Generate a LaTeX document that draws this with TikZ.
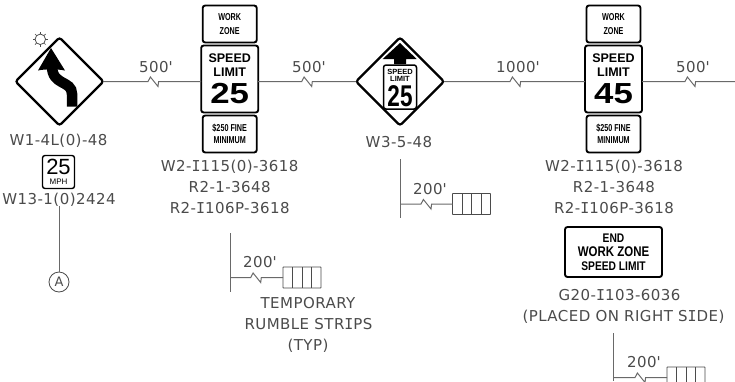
\documentclass[tikz,border=0pt]{standalone}
\usepackage{fontspec}
\usetikzlibrary{calc,shapes.geometric}
\setmainfont[LetterSpace=3]{DejaVu Sans}
\newfontfamily\serifI{DejaVu Sans Mono}
\newfontfamily\signreg{Liberation Sans}
\newfontfamily\signbold{Liberation Sans Bold}
\newfontfamily\signnarrow[FakeStretch=0.82]{Liberation Sans Bold}
\newfontfamily\signtiny[FakeStretch=0.72]{Liberation Sans Bold}
\newcommand{\sI}{{\serifI I}}
\newcommand{\ft}{\textquotesingle}
\definecolor{roadgray}{RGB}{105,105,105}
\definecolor{codegray}{RGB}{75,75,75}
\tikzset{
  road/.style={draw=roadgray,line width=1pt},
  codetext/.style={anchor=base,inner sep=0pt,text=codegray,font=\fontsize{15}{15}\selectfont},
  signrect/.style={draw=black,fill=white,line width=1.9pt,rounded corners=2.5pt,inner sep=0pt,outer sep=0pt},
  warndiamond/.style={diamond,aspect=1,draw=black,fill=white,line width=2.2pt,rounded corners=2.5pt,inner sep=0pt,outer sep=0pt,minimum width=88pt,minimum height=88pt},
  stripbox/.style={draw=codegray,line width=0.8pt,rounded corners=0.5pt,minimum width=38pt,minimum height=21pt,inner sep=0pt,outer sep=0pt},
  tinytext/.style={align=center,inner sep=0pt,font=\signtiny\fontsize{10}{13.5}\selectfont},
}
% Break symbol on a line
\newcommand{\zig}[3]{\draw[road] (#1) -- ($(#2)+(-5,0)$) -- ++(2.4,-4.5) -- ++(7.6,9.5) -- ++(0.6,-5) -- (#3);}
% Rumble strip block
\newcommand{\rumble}[2]{
  \node[stripbox] (#1) at (#2) {};
  \foreach \f in {0.25,0.5,0.75}
    \draw[codegray,line width=0.8pt] ($(#1.north west)!\f!(#1.north east)$) -- ($(#1.south west)!\f!(#1.south east)$);
}
% Three sign stack
\newcommand{\speedstack}[3]{
  \node[signrect,minimum width=54pt,minimum height=37pt,tinytext] (#1work) at (#2,24) {WORK\\ZONE};
  \node[signrect,minimum width=57pt,minimum height=67pt] (#1speed) at (#2,79) {};
  \node[signrect,minimum width=54pt,minimum height=37pt,tinytext,font=\signtiny\fontsize{10}{12}\selectfont] (#1fine) at (#2,134) {\$250 FINE\\MINIMUM};
  \node[inner sep=0pt,font=\signbold\fontsize{12.5}{12.5}\selectfont] (#1top) at (#2,58) {SPEED};
  \node[inner sep=0pt,font=\signbold\fontsize{12.5}{12.5}\selectfont] (#1mid) at (#2,72) {LIMIT};
  \node[inner sep=0pt,font=\signbold\fontsize{29}{29}\selectfont] (#1num) at (#2,94) {\scalebox{1.2}[1]{#3}};
}
\begin{document}
\begin{tikzpicture}[x=1pt,y=-1pt]
\clip (0,0) rectangle (735,381);
\fill[white] (0,0) rectangle (735,381);

% Draw signs along the road
\node[warndiamond] (curve) at (59.5,81.5) {};
\speedstack{first}{229.7}{25}
\node[warndiamond] (ahead) at (400,81.5) {};
\speedstack{second}{613.5}{45}

% Draw road with breaks
\coordinate (breakA) at (153,81.5);
\coordinate (breakB) at (306.7,81.5);
\coordinate (breakC) at (515,81.5);
\coordinate (breakD) at (690,81.5);
\coordinate (roadend) at (735,81.5);
\zig{curve}{breakA}{firstspeed.west |- breakA}
\zig{firstspeed.east |- breakB}{breakB}{ahead}
\zig{ahead}{breakC}{secondspeed.west |- breakC}
\zig{secondspeed.east |- breakD}{breakD}{roadend}

% Curve arrow and flasher
\draw[black,line width=10.5pt] (72,106.5) -- (72,94) .. controls (72,80) and (52,86) .. (52,66);
\fill[black] (51,48) -- (38,70.5) .. controls (44,69) and (58,69) .. (65,70.5) -- cycle;
\node[circle,draw=codegray,line width=0.8pt,minimum size=10.5pt,inner sep=0pt] (flasher) at (40.3,39.3) {};
\foreach \a in {0,45,...,315}
  \draw[codegray,line width=0.7pt] (flasher.\a) -- ++({1.8*cos(\a)},{-1.8*sin(\a)});

% Ahead arrow and small limit sign
\fill[black] (400,43) -- (382.7,59) -- (394,59) -- (394,64) -- (406,64) -- (406,59) -- (416.7,59) -- cycle;
\node[signrect,line width=1.5pt,minimum width=33pt,minimum height=44pt] (aheadsign) at (400,87) {};
\node[inner sep=0pt,font=\signbold\fontsize{7.5}{7.5}\selectfont] (aheadtop) at (400,71.5) {SPEED};
\node[inner sep=0pt,font=\signbold\fontsize{7.5}{7.5}\selectfont] (aheadmid) at (400,79) {LIMIT};
\node[inner sep=0pt,font=\signbold\fontsize{30}{30}\selectfont] (aheadnum) at (400,96) {\scalebox{0.75}[1]{25}};

% Add sign codes
\node[codetext] (codeA) at (58.5,145) {W1-4L(0)-48};
\node[signrect,line width=1.4pt,minimum width=32pt,minimum height=33pt] (mph) at (58.5,172) {};
\node[inner sep=0pt,font=\signreg\fontsize{22}{22}\selectfont] (mphnum) at (58.5,167) {25};
\node[inner sep=0pt,font=\signreg\fontsize{8}{8}\selectfont] (mphtext) at (58.5,182) {MPH};
\node[codetext] (codeB) at (59,204) {W13-1(0)2424};
\node[circle,draw=codegray,line width=0.8pt,minimum size=20pt,inner sep=0pt,text=codegray,font=\fontsize{13}{13}\selectfont] (circA) at (59,282) {A};
\draw[road] (codeB.south) -- (circA);

\node[codetext] (codeC) at (229.7,171) {W2-\sI115(0)-3618};
\node[codetext] (codeD) at (229.7,192) {R2-1-3648};
\node[codetext] (codeE) at (229.7,213) {R2-\sI106P-3618};
\node[codetext] (codeF) at (399,147) {W3-5-48};
\node[codetext] (codeG) at (614,171) {W2-\sI115(0)-3618};
\node[codetext] (codeH) at (614,192) {R2-1-3648};
\node[codetext] (codeI) at (614,213) {R2-\sI106P-3618};

% End sign
\node[signrect,minimum width=97pt,minimum height=50pt,align=center,font=\signnarrow\fontsize{12.5}{14}\selectfont] (endsign) at (613.5,252) {END\\{\fontsize{14}{14}\selectfont WORK ZONE}\\SPEED LIMIT};
\node[codetext] (codeJ) at (619.5,300) {G20-\sI103-6036};
\node[codetext] (codeK) at (623.5,321) {(PLACED ON RIGHT S\sI DE)};

% Distance labels
\node[codetext] (distA) at (156,72) {500\ft};
\node[codetext] (distB) at (309,72) {500\ft};
\node[codetext] (distC) at (518,72) {1000\ft};
\node[codetext] (distD) at (693,72) {500\ft};

% Rumble strips
\coordinate (tickA) at (230,233);
\coordinate (tickB) at (230,292);
\coordinate (footA) at (230,277.5);
\coordinate (breakE) at (255.7,277.5);
\draw[road] (tickA) -- (tickB);
\rumble{stripA}{302,277.5}
\zig{footA}{breakE}{stripA}
\node[codetext] (distE) at (260,267) {200\ft};
\node[codetext] (noteA) at (308,308) {TEMPORARY};
\node[codetext] (noteB) at (308.5,329) {RUMBLE STR\sI PS};
\node[codetext] (noteC) at (308,350) {(TYP)};

\coordinate (tickC) at (400,159);
\coordinate (tickD) at (400,218);
\coordinate (footB) at (400,204);
\coordinate (breakF) at (426,204);
\draw[road] (tickC) -- (tickD);
\rumble{stripB}{471.5,204}
\zig{footB}{breakF}{stripB}
\node[codetext] (distF) at (430,194) {200\ft};

\coordinate (tickE) at (613.7,333);
\coordinate (tickF) at (613.7,381);
\coordinate (footC) at (613.7,377.5);
\coordinate (breakG) at (640,377.5);
\draw[road] (tickE) -- (tickF);
\rumble{stripC}{686,377.5}
\zig{footC}{breakG}{stripC}
\node[codetext] (distG) at (644,367.5) {200\ft};
\end{tikzpicture}
\end{document}
